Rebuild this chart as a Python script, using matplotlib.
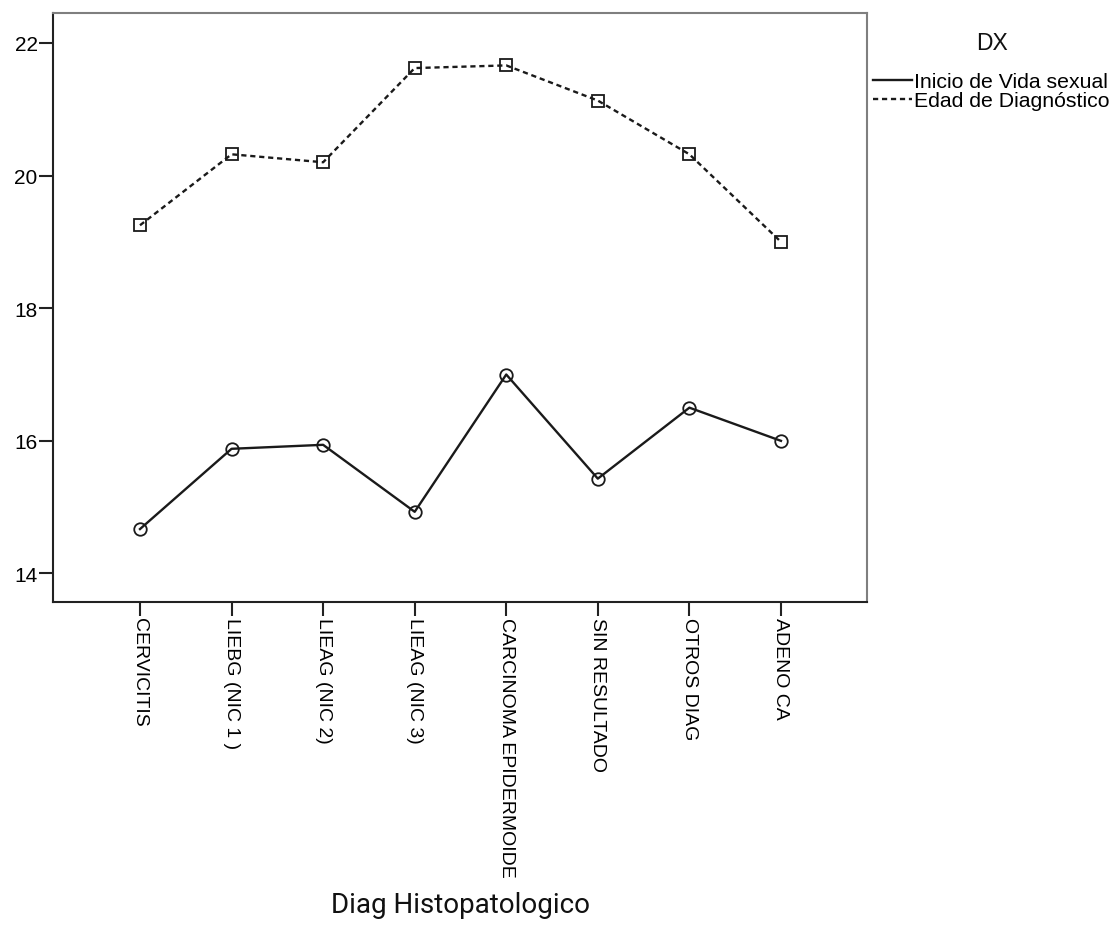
import matplotlib
matplotlib.use("Agg")
import matplotlib.pyplot as plt

categories = ["CERVICITIS", "LIEBG (NIC 1 )", "LIEAG (NIC 2)", "LIEAG (NIC 3)",
              "CARCINOMA EPIDERMOIDE", "SIN RESULTADO", "OTROS DIAG", "ADENO CA"]
inicio_vida_sexual = [14.67, 15.88, 15.94, 14.93, 17.0, 15.43, 16.5, 16.0]
edad_diagnostico = [19.25, 20.32, 20.2, 21.62, 21.66, 21.13, 20.32, 19.0]
y_ticks = [14, 16, 18, 20, 22]

plt.rcParams["font.family"] = ["Liberation Sans", "DejaVu Sans"]

fig = plt.figure(figsize=(11.16, 9.28), dpi=100)
ax = fig.add_axes([0.0475, 0.3502, 0.7294, 0.6347])

x = list(range(len(categories)))

# the two series
ax.plot(x, inicio_vida_sexual, color="#1a1a1a", lw=1.7, marker="o", ms=9,
        mfc="none", mec="#1a1a1a", mew=1.3, label="Inicio de Vida sexual")
ax.plot(x, edad_diagnostico, color="#1a1a1a", lw=1.7, ls=(0, (2.2, 1.6)), marker="s",
        ms=9, mfc="none", mec="#1a1a1a", mew=1.3, label="Edad de Diagnóstico")

ax.set_xlim(-0.95, 7.94)
ax.set_ylim(13.57, 22.45)
ax.set_xticks(x)
ax.set_xticklabels(categories, rotation=270, fontsize=14)
ax.set_yticks(y_ticks)
ax.set_yticklabels([str(t) for t in y_ticks], fontsize=15)
ax.tick_params(axis="both", direction="out", length=10, width=1.5, pad=1, color="#222222")

for side in ["left", "bottom"]:
    ax.spines[side].set_color("#222222")
    ax.spines[side].set_linewidth(1.5)
for side in ["top", "right"]:
    ax.spines[side].set_color("#7f7f7f")
    ax.spines[side].set_linewidth(1.5)

ax.set_xlabel("Diag Histopatologico", fontsize=20, family=["Roboto", "DejaVu Sans"],
              color="#111111", labelpad=10)

# legend, title drawn separately
leg = fig.legend(loc="upper left", bbox_to_anchor=(873 / 1116, 1 - 73 / 928),
                 frameon=False, fontsize=15.3, handlelength=1.85,
                 handletextpad=0.1, labelspacing=0.0, borderpad=0, borderaxespad=0)
for h in leg.legend_handles:
    h.set_marker("")
fig.text(992 / 1116, 1 - 43 / 928, "DX", fontsize=16.5, family=["Liberation Sans"],
         ha="center", va="center", color="#111111")

fig.savefig("out.png", dpi=100, facecolor="white")
